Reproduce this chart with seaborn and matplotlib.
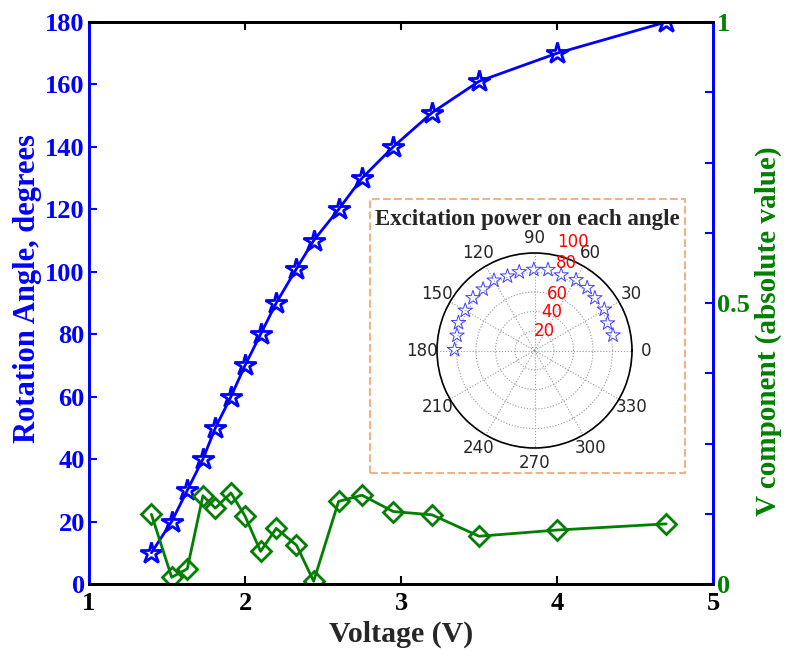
import numpy as np
import pandas as pd
import matplotlib
matplotlib.use("Agg")
import matplotlib.pyplot as plt
from matplotlib.patches import Rectangle
import seaborn as sns

# data
voltage = [1.4, 1.53, 1.63, 1.73, 1.81, 1.91, 2.0, 2.1, 2.2, 2.33, 2.44,
           2.6, 2.75, 2.95, 3.2, 3.5, 4.0, 4.7]
rotation = [10, 20, 30, 40, 50, 60, 70, 80, 90, 101, 110, 120, 130, 140,
            151, 161, 170, 180]
v_comp = [0.124, 0.012, 0.027, 0.157, 0.135, 0.162, 0.121, 0.058, 0.099,
          0.069, 0.005, 0.147, 0.158, 0.129, 0.123, 0.085, 0.096, 0.107]
# inset: excitation power vs angle
pol_angle = [11, 20.5, 30.5, 41, 50, 59.5, 70.5, 80.5, 90.5, 101, 110, 120,
             130, 139.5, 150, 160, 169, 179.5]
pol_power = [82, 80, 83, 82, 84, 84, 82, 84, 83, 82, 81, 83, 82, 83, 82, 83,
             81, 82]
ring_vals = [20, 40, 60, 80, 100]
# where matlab put the ring labels (angle deg, radius)
ring_lab_pos = [(63, 23), (66, 43), (68, 62), (70, 95), (70.5, 118)]

sns.set_style("ticks")
plt.rcParams['font.family'] = ['Liberation Serif', 'DejaVu Serif']
plt.rcParams['font.weight'] = 'bold'

BLUE = '#0000ff'
GREEN = '#007f00'
TICK_FS = 19
LAB_FS = 21.5

fig = plt.figure(figsize=(7.96, 6.61), dpi=100)
ax = fig.add_axes([89/796, 1-584/661, (713-89)/796, (584-22)/661])
ax2 = ax.twinx()

sns.lineplot(x=voltage, y=rotation, ax=ax, color=BLUE, lw=2, marker='*',
             markersize=16, markerfacecolor='none', markeredgecolor=BLUE,
             markeredgewidth=2, zorder=3)
sns.lineplot(x=voltage, y=v_comp, ax=ax2, color=GREEN, lw=2, marker='D',
             markersize=10, markerfacecolor='none', markeredgecolor=GREEN,
             markeredgewidth=2)

ax.set_xlim(1, 5)
ax.set_ylim(0, 180)
ax2.set_ylim(0, 1)
ax.set_xticks([1, 2, 3, 4, 5])
ax.set_yticks(np.arange(0, 181, 20))
ax2.set_yticks(np.arange(0, 1.001, 0.125))
ax2.set_yticklabels(['0', '', '', '', '0.5', '', '', '', '1'])

ax.tick_params(axis='x', direction='in', length=6, width=1.5, top=True,
               labelsize=TICK_FS, colors='black', pad=6)
ax.tick_params(axis='y', direction='in', length=6, width=1.5, colors=BLUE,
               labelsize=TICK_FS, pad=3)
ax2.tick_params(axis='y', direction='in', length=6, width=1.5, color=BLUE,
                labelcolor=GREEN, labelsize=TICK_FS, pad=3)
for a in (ax, ax2):
    for s in a.spines.values():
        s.set_linewidth(2)
    a.spines['left'].set_color(BLUE)
    a.spines['right'].set_color(BLUE)
    a.spines['top'].set_color('black')
    a.spines['bottom'].set_color('black')

ax.set_xlabel('Voltage (V)', fontsize=LAB_FS, fontweight='bold', labelpad=4)
ax.set_ylabel('Rotation Angle, degrees', fontsize=LAB_FS + 0.5,
              fontweight='bold', color=BLUE)
ax2.set_ylabel('V component (absolute value)', fontsize=LAB_FS - 0.5,
               fontweight='bold', color=GREEN)
ax.yaxis.set_label_coords(-0.076, 0.525)
ax2.yaxis.set_label_coords(1.066, 0.45)

# inset box
fig.patches.append(Rectangle((370/796, 1-473/661), (685-370)/796,
                             (473-199)/661, transform=fig.transFigure,
                             fill=True, facecolor='white',
                             edgecolor='#f4b183', lw=1.5, ls='--', zorder=5))
fig.text(527/796, 1-219/661, 'Excitation power on each angle', ha='center',
         va='center', fontsize=16.5, fontweight='bold', zorder=6)

pax = fig.add_axes([437/796, 1-448/661, 195/796, 195/661], projection='polar')
pax.set_zorder(6)
sns.scatterplot(x=np.deg2rad(pol_angle), y=pol_power, ax=pax, marker='*',
                s=120, facecolor='none', edgecolor='#4040ff', linewidth=0.7)
pax.set_ylim(0, 100)
pax.set_yticks(ring_vals)
pax.set_yticklabels([])
for v, (ang, rr) in zip(ring_vals, ring_lab_pos):
    pax.text(np.deg2rad(ang), rr, str(v), color='red', fontsize=12,
             fontweight='normal', family='DejaVu Sans', ha='center',
             va='center', clip_on=False)
pax.set_xticks(np.deg2rad(np.arange(0, 360, 30)))
pax.set_xticklabels([str(a) for a in range(0, 360, 30)], fontsize=12,
                    fontweight='normal', family='DejaVu Sans')
pax.tick_params(axis='x', pad=0)
pax.grid(True, color='#999999', ls=':', lw=0.8)
pax.spines['polar'].set_linewidth(1.2)
pax.spines['polar'].set_color('black')

fig.savefig('out.png', dpi=100)
